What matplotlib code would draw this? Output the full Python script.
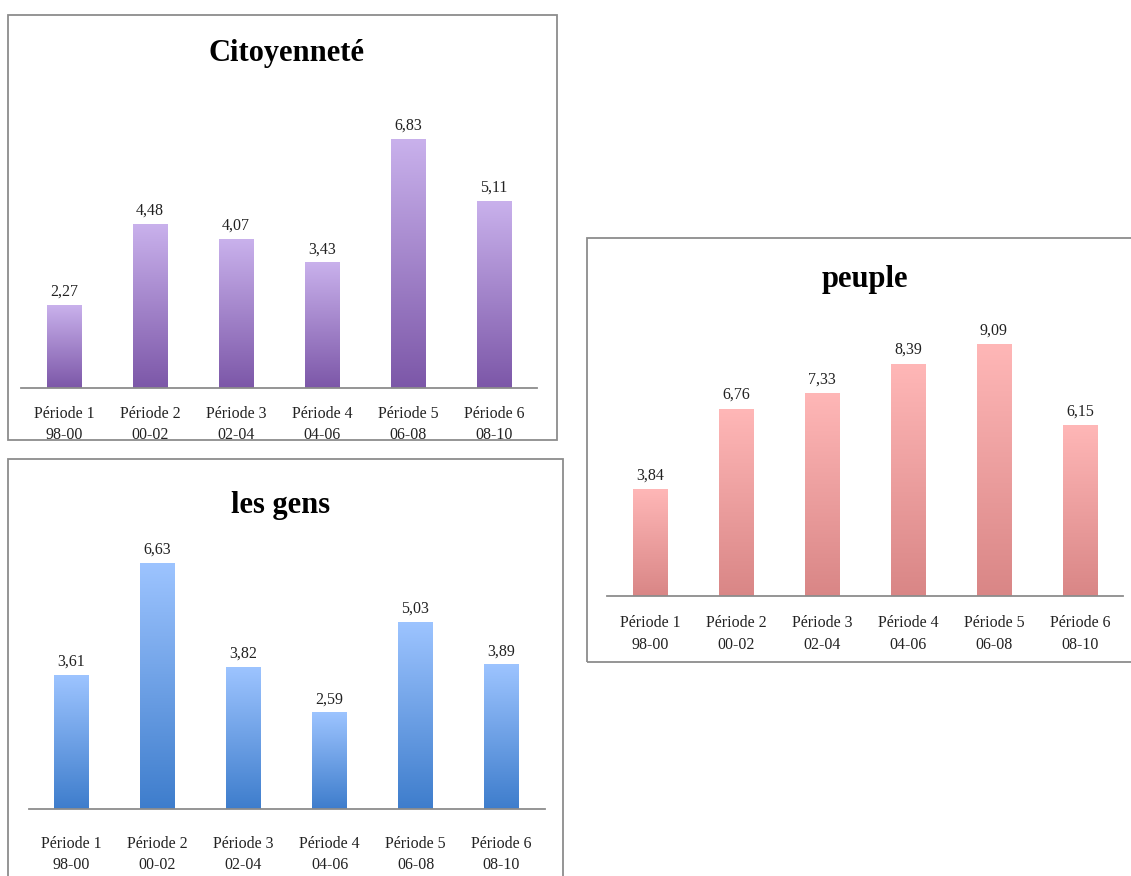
import numpy as np
import matplotlib
matplotlib.use('Agg')
import matplotlib.pyplot as plt
from matplotlib.patches import Rectangle
from matplotlib.colors import LinearSegmentedColormap

W, H = 1131, 876

CATEGORIES = ['Période 1\n98-00', 'Période 2\n00-02', 'Période 3\n02-04',
              'Période 4\n04-06', 'Période 5\n06-08', 'Période 6\n08-10']
CITOYENNETE = [2.27, 4.48, 4.07, 3.43, 6.83, 5.11]
PEUPLE = [3.84, 6.76, 7.33, 8.39, 9.09, 6.15]
LES_GENS = [3.61, 6.63, 3.82, 2.59, 5.03, 3.89]

plt.rcParams['font.family'] = ['Liberation Serif', 'DejaVu Serif']


def fx(x):
    return x / W


def fy(y):
    return 1 - y / H


def gradient_bars(ax, values, top_col, bot_col):
    cmap = LinearSegmentedColormap.from_list('g', [bot_col, top_col])
    grad = np.linspace(0, 1, 256).reshape(-1, 1)
    bars = ax.bar(range(len(values)), values, width=0.4, color='none',
                  edgecolor='none', zorder=2)
    for b in bars:
        x0, y0 = b.get_x(), b.get_y()
        ax.imshow(grad, cmap=cmap, aspect='auto', origin='lower', zorder=2,
                  extent=[x0, x0 + b.get_width(), y0, y0 + b.get_height()])
    for i, v in enumerate(values):
        ax.annotate(('%.2f' % v).replace('.', ','), (i, v),
                    xytext=(0, 7), textcoords='offset points',
                    ha='center', va='baseline', fontsize=11.5, color='#222222')


def panel(box, axrect, ymax, values, title, title_xy, top_col, bot_col, pad):
    # box / axrect in pixels: (left, top, right, bottom)
    l, t, r, b = box
    fig.patches.append(Rectangle((fx(l), fy(b)), fx(r) - fx(l), fy(t) - fy(b),
                                 transform=fig.transFigure, fill=False,
                                 edgecolor='#8c8c8c', lw=1.3))
    l, t, r, b = axrect
    ax = fig.add_axes([fx(l), fy(b), fx(r) - fx(l), fy(t) - fy(b)])
    ax.set_xlim(-0.5, len(values) - 0.5)
    ax.set_ylim(0, ymax)
    gradient_bars(ax, values, top_col, bot_col)
    for s in ['top', 'right', 'left']:
        ax.spines[s].set_visible(False)
    ax.spines['bottom'].set_color('#8c8c8c')
    ax.spines['bottom'].set_linewidth(1.3)
    ax.spines['bottom'].set_zorder(3)
    ax.set_yticks([])
    ax.set_xticks(range(len(values)))
    ax.set_xticklabels(CATEGORIES, fontsize=11.5, linespacing=1.45,
                       color='#222222')
    ax.tick_params(axis='x', length=0, pad=pad)
    ax.patch.set_alpha(0)
    fig.text(fx(title_xy[0]), fy(title_xy[1]), title, ha='center', va='center',
             fontsize=22, fontweight='bold', color='black')
    return ax


fig = plt.figure(figsize=(W / 100, H / 100), dpi=100, facecolor='white')

panel((8, 15, 557, 440), (21, 96.4, 537, 388), 8, CITOYENNETE,
      'Citoyenneté', (286, 54), '#C9B1EC', '#7C57A8', 13)
panel((587, 238, 1140, 662), (607, 319.2, 1123, 595.7), 10, PEUPLE,
      'peuple', (865, 280), '#FFB7B7', '#D98686', 14)
panel((8, 459, 563, 890), (28.5, 549.6, 544.5, 809.3), 7, LES_GENS,
      'les gens', (281, 505), '#9DC4FF', '#3E7DCC', 19)

fig.savefig('out.png', dpi=100, facecolor='white')
